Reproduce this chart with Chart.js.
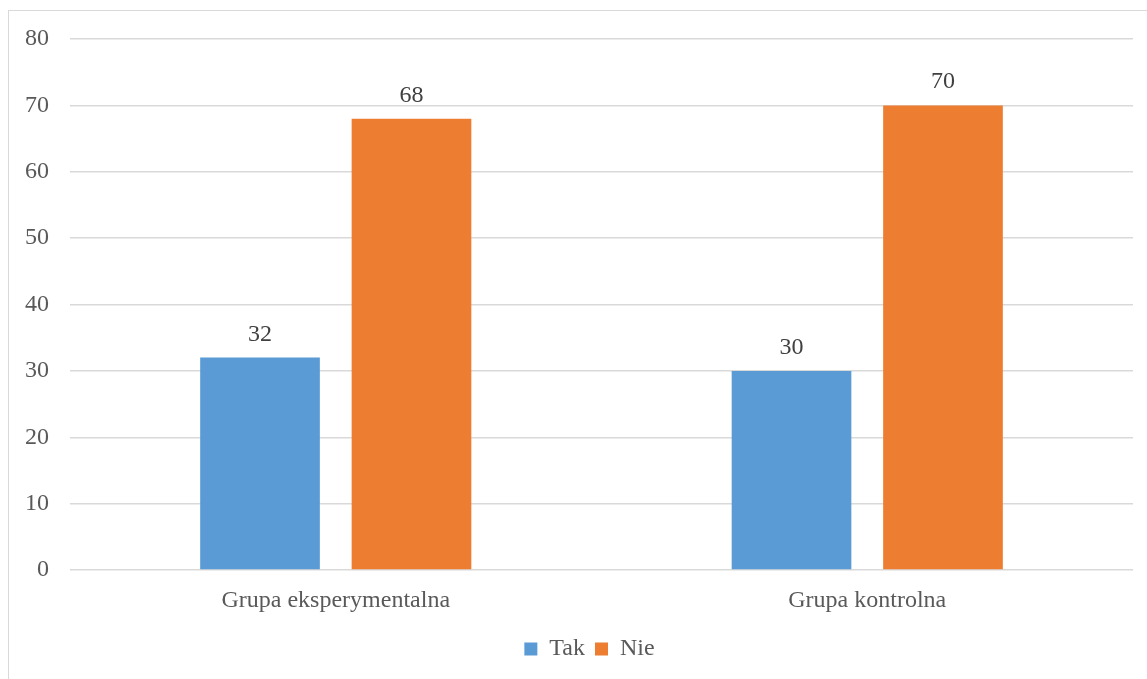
<!DOCTYPE html>
<html>
<head>
<meta charset="utf-8">
<script src="https://cdn.jsdelivr.net/npm/chart.js@4/dist/chart.umd.min.js"></script>
<style>
  html, body { margin: 0; padding: 0; background: #ffffff; }
  #wrap { width: 1147px; height: 679px; position: relative; }
</style>
</head>
<body>
<div id="wrap"><canvas id="c" width="1147" height="679"></canvas></div>
<script>
// Categories, series and axis ticks
const categories = ['Grupa eksperymentalna', 'Grupa kontrolna'];
const seriesNames = ['Tak', 'Nie'];
const takValues = [32, 30];
const nieValues = [68, 70];
const yTicks = [0, 10, 20, 30, 40, 50, 60, 70, 80];

const FONT = '"Liberation Serif", "Times New Roman", serif';
const TEXT = '#595959';
const GRID = '#d9d9d9';

// Thin frame around the chart area
const framePlugin = {
  id: 'frame',
  beforeDraw(chart) {
    const ctx = chart.ctx;
    ctx.save();
    ctx.fillStyle = '#ffffff';
    ctx.fillRect(0, 0, chart.width, chart.height);
    ctx.strokeStyle = GRID;
    ctx.lineWidth = 1;
    ctx.strokeRect(8.5, 10.5, chart.width + 20, chart.height + 20);
    ctx.restore();
  }
};

// Center the legend under the framed area rather than the whole canvas
const legendShift = {
  id: 'legendShift',
  afterLayout(chart) {
    if (chart.legend) {
      chart.legend.left += 13;
      chart.legend.right += 13;
    }
  }
};

// Value labels above each bar
const valueLabels = {
  id: 'valueLabels',
  afterDatasetsDraw(chart) {
    const ctx = chart.ctx;
    ctx.save();
    ctx.font = '24px ' + FONT;
    ctx.fillStyle = '#404040';
    ctx.textAlign = 'center';
    ctx.textBaseline = 'alphabetic';
    chart.data.datasets.forEach((ds, i) => {
      chart.getDatasetMeta(i).data.forEach((bar, j) => {
        ctx.fillText(String(ds.data[j]), bar.x, bar.y - 17);
      });
    });
    ctx.restore();
  }
};

new Chart(document.getElementById('c'), {
  type: 'bar',
  data: {
    labels: categories,
    datasets: [
      { label: seriesNames[0], data: takValues, backgroundColor: '#5b9bd5', borderWidth: 0 },
      { label: seriesNames[1], data: nieValues, backgroundColor: '#ed7d31', borderWidth: 0 }
    ]
  },
  options: {
    responsive: false,
    animation: false,
    devicePixelRatio: 1,
    categoryPercentage: 0.57,
    barPercentage: 0.79,
    layout: { padding: { top: 39, right: 14, left: 20, bottom: 8 } },
    scales: {
      x: {
        grid: { display: false, drawTicks: false },
        border: { display: false },
        ticks: { color: TEXT, font: { family: FONT, size: 24 }, padding: 16 },
        afterFit(scale) { scale.height = 57; }
      },
      y: {
        min: 0,
        max: 80,
        afterBuildTicks(scale) { scale.ticks = yTicks.map(v => ({ value: v })); },
        grid: { color: GRID, lineWidth: 1.5, drawTicks: false },
        border: { display: false },
        ticks: { color: TEXT, font: { family: FONT, size: 24 }, padding: 21 },
        afterFit(scale) { scale.width = 50; }
      }
    },
    plugins: {
      legend: {
        position: 'bottom',
        labels: {
          color: TEXT,
          font: { family: FONT, size: 24 },
          boxWidth: 13,
          boxHeight: 13,
          padding: 10
        }
      },
      tooltip: { enabled: false }
    }
  },
  plugins: [framePlugin, legendShift, valueLabels]
});
</script>
</body>
</html>
